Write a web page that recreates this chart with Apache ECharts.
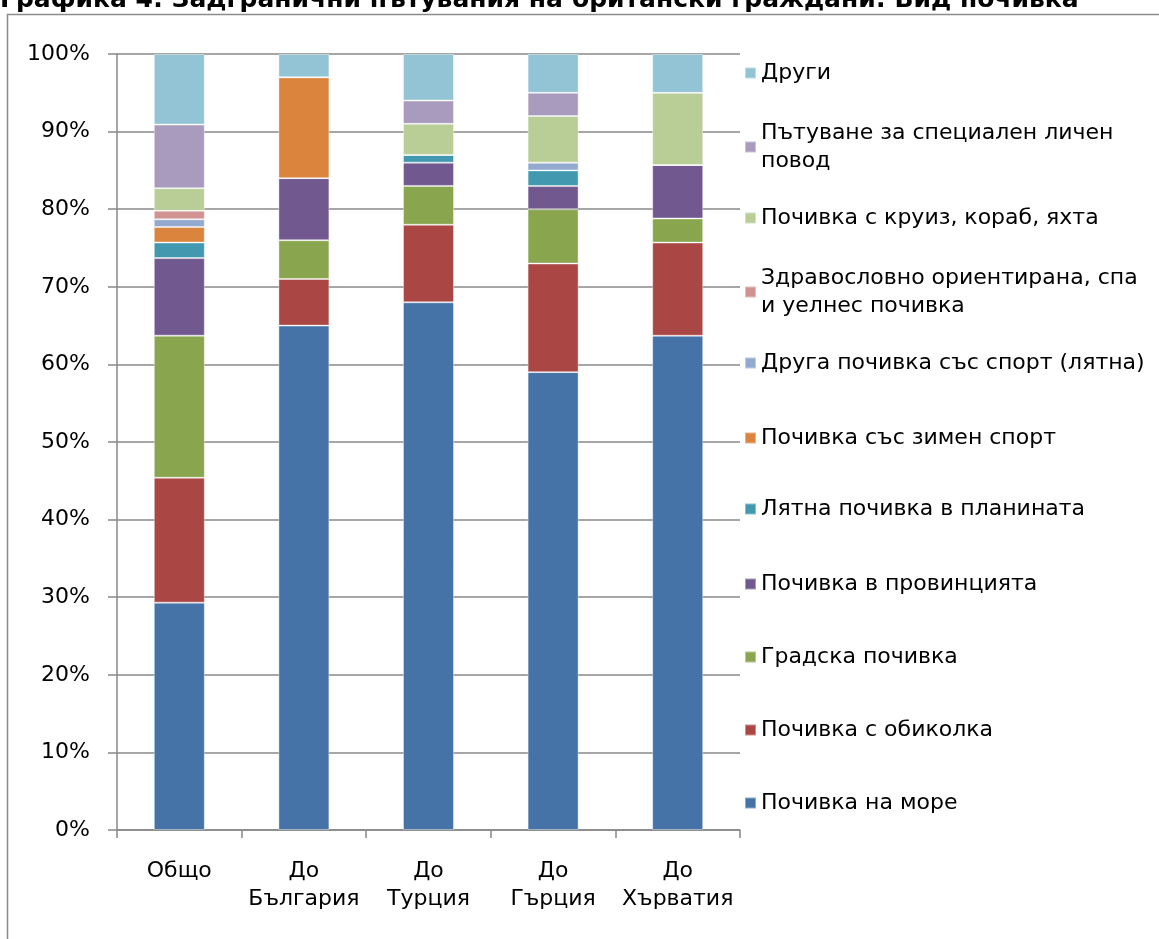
<!DOCTYPE html>
<html>
<head>
<meta charset="utf-8">
<title>Вид почивка</title>
<script src="https://cdn.jsdelivr.net/npm/echarts@6/dist/echarts.min.js"></script>
<style>
  html, body { margin: 0; padding: 0; background: #fff; }
  #chart { width: 1159px; height: 939px; }
</style>
</head>
<body>
<div id="chart"></div>
<script>
// Destinations (x-axis categories)
const categories = ['Общо', 'До\nБългария', 'До\nТурция', 'До\nГърция', 'До\nХърватия'];

// Holiday types, bottom of the stack first
const seriesNames = [
  'Почивка на море',
  'Почивка с обиколка',
  'Градска почивка',
  'Почивка в провинцията',
  'Лятна почивка в планината',
  'Почивка със зимен спорт',
  'Друга почивка със спорт (лятна)',
  'Здравословно ориентирана, спа\nи уелнес почивка',
  'Почивка с круиз, кораб, яхта',
  'Пътуване за специален личен\nповод',
  'Други'
];

// Shares in percent, one value per destination
const seaValues        = [29.3, 65.0, 68.0, 59.0, 63.7];
const tourValues       = [16.1,  6.0, 10.0, 14.0, 12.0];
const cityValues       = [18.3,  5.0,  5.0,  7.0,  3.1];
const countryValues    = [10.0,  8.0,  3.0,  3.0,  6.9];
const mountainValues   = [ 2.0,  0.0,  1.0,  2.0,  0.0];
const winterValues     = [ 2.0, 13.0,  0.0,  0.0,  0.0];
const sportValues      = [ 1.0,  0.0,  0.0,  1.0,  0.0];
const spaValues        = [ 1.1,  0.0,  0.0,  0.0,  0.0];
const cruiseValues     = [ 2.9,  0.0,  4.0,  6.0,  9.3];
const occasionValues   = [ 8.2,  0.0,  3.0,  3.0,  0.0];
const otherValues      = [ 9.1,  3.0,  6.0,  5.0,  5.0];

// Y-axis tick values
const yTicks = [0, 10, 20, 30, 40, 50, 60, 70, 80, 90, 100];

const seriesValues = [
  seaValues, tourValues, cityValues, countryValues, mountainValues,
  winterValues, sportValues, spaValues, cruiseValues, occasionValues, otherValues
];

const colors = [
  '#4572A7', '#AA4643', '#89A54E', '#71588F', '#4198AF',
  '#DB843D', '#93A9CF', '#D19392', '#B9CD96', '#A99BBD', '#93C4D5'
];

const FONT = '"DejaVu Sans", "Liberation Sans", Arial, sans-serif';
const FONT_SIZE = 22;
const LEGEND_LINE = 28;

// Vertical centre of each legend marker, top entry ("Други") first
const legendCenters = [73, 147, 218, 292, 363, 438, 509, 584, 657, 730, 803];

const legendNames = seriesNames.slice().reverse();
const legends = legendNames.map((name, i) => {
  const twoLines = name.indexOf('\n') >= 0;
  const c = legendCenters[i];
  return {
    data: [name],
    orient: 'vertical',
    left: 744,
    top: twoLines ? c - 1.5 * LEGEND_LINE : c - LEGEND_LINE / 2,
    padding: 0,
    itemWidth: 11,
    itemHeight: 11,
    itemGap: 0,
    icon: 'rect',
    selectedMode: false,
    textStyle: {
      fontFamily: FONT,
      fontSize: FONT_SIZE,
      color: '#000',
      lineHeight: LEGEND_LINE,
      padding: twoLines ? [LEGEND_LINE, 0, 0, 0] : 0
    }
  };
});

const chart = echarts.init(document.getElementById('chart'), null, { renderer: 'canvas' });

chart.setOption({
  animation: false,
  backgroundColor: '#fff',
  color: colors,
  title: {
    text: 'Графика 4: Задгранични пътувания на британски граждани: Вид почивка',
    left: 0,
    top: -12,
    padding: 0,
    textStyle: { fontFamily: FONT, fontSize: 25, fontWeight: 'bold', color: '#000' }
  },
  graphic: [{
    type: 'rect',
    silent: true,
    shape: { x: 7.5, y: 14.5, width: 1300, height: 1100 },
    style: { fill: 'none', stroke: '#8c8c8c', lineWidth: 1.5 }
  }],
  legend: legends,
  grid: { left: 117, right: 419, top: 54, bottom: 109, containLabel: false },
  xAxis: {
    type: 'category',
    data: categories,
    axisLine: { show: true, lineStyle: { color: '#888', width: 1.5 } },
    axisTick: { show: true, length: 8, alignWithLabel: false, lineStyle: { color: '#888', width: 1.5 } },
    axisLabel: {
      interval: 0, margin: 27, color: '#000', fontFamily: FONT, fontSize: FONT_SIZE, lineHeight: 28
    },
    splitLine: { show: false }
  },
  yAxis: {
    type: 'value',
    min: 0,
    max: 100,
    interval: 10,
    axisLine: { show: true, lineStyle: { color: '#888', width: 1.5 } },
    axisTick: { show: true, length: 9, lineStyle: { color: '#888', width: 1.5 } },
    axisLabel: {
      margin: 27, color: '#000', fontFamily: FONT, fontSize: FONT_SIZE,
      formatter: v => (yTicks.indexOf(v) >= 0 ? v + '%' : '')
    },
    splitLine: { show: true, lineStyle: { color: '#888', width: 1.5 } }
  },
  series: seriesNames.map((name, i) => ({
    name: name,
    type: 'bar',
    stack: 'total',
    barWidth: 51,
    data: seriesValues[i],
    itemStyle: { color: colors[i], borderColor: 'rgba(255,255,255,0.4)', borderWidth: 1 }
  }))
});
</script>
</body>
</html>
